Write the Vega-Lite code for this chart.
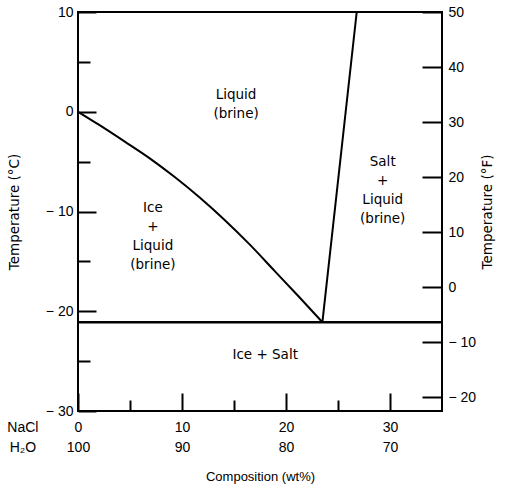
{
  "$schema": "https://vega.github.io/schema/vega-lite/v6.json",
  "width": 364,
  "height": 399,
  "autosize": "none",
  "padding": {"left": 78, "top": 12, "right": 68, "bottom": 82},
  "background": "white",
  "config": {
    "view": {"stroke": "black", "strokeWidth": 2},
    "font": "Liberation Sans",
    "axis": {
      "domain": false,
      "grid": false,
      "tickColor": "black",
      "tickWidth": 2,
      "labelColor": "black",
      "labelFontSize": 14,
      "labelFont": "Liberation Sans",
      "labelFlush": false,
      "labelOverlap": false,
      "titleFont": "DejaVu Sans",
      "titleFontSize": 13.5,
      "titleFontWeight": "normal",
      "titleColor": "black"
    }
  },
  "datasets": {
    "curves": [
      {"series": "liquidus", "wt": 0, "T": 0},
      {"series": "liquidus", "wt": 2, "T": -1.3},
      {"series": "liquidus", "wt": 4.5, "T": -3.0},
      {"series": "liquidus", "wt": 7, "T": -4.75},
      {"series": "liquidus", "wt": 9.3, "T": -6.55},
      {"series": "liquidus", "wt": 11.7, "T": -8.6},
      {"series": "liquidus", "wt": 14.1, "T": -10.85},
      {"series": "liquidus", "wt": 16.5, "T": -13.3},
      {"series": "liquidus", "wt": 18.9, "T": -15.95},
      {"series": "liquidus", "wt": 21.2, "T": -18.5},
      {"series": "liquidus", "wt": 23.5, "T": -21.1},
      {"series": "solubility", "wt": 23.5, "T": -21.1},
      {"series": "solubility", "wt": 26.8, "T": 10}
    ],
    "eutectic": [{"T": -21.1}],
    "regions": [
      {"label": "Liquid\n(brine)", "wt": 15.2, "T": 1.7},
      {"label": "Salt\n+\nLiquid\n(brine)", "wt": 29.3, "T": -5.0},
      {"label": "Ice\n+\nLiquid\n(brine)", "wt": 7.2, "T": -9.65},
      {"label": "Ice + Salt", "wt": 18.0, "T": -24.4}
    ],
    "rows": [
      {"label": "NaCl", "wt": -5.3, "T": -31.7},
      {"label": "H₂O", "wt": -5.3, "T": -33.7}
    ],
    "fahrenheit": [{"F": -22.5}, {"F": 50}]
  },
  "layer": [
    {
      "layer": [
        {
          "data": {"name": "curves"},
          "mark": {"type": "line", "color": "black", "strokeWidth": 2, "interpolate": "monotone"},
          "encoding": {
            "x": {
              "field": "wt", "type": "quantitative",
              "scale": {"domain": [0, 35], "nice": false, "zero": false},
              "axis": {
                "orient": "bottom",
                "title": "Composition (wt%)",
                "titleFont": "Liberation Sans",
                "titleFontSize": 13,
                "values": [0, 5, 10, 15, 20, 25, 30],
                "tickSize": {"condition": {"test": "datum.value % 10 === 0", "value": -18}, "value": -11},
                "labelPadding": 27,
                "labelLineHeight": 20,
                "labelBaseline": "top",
                "labelExpr": "datum.value % 10 === 0 ? [datum.label, '' + (100 - datum.value)] : ''",
                "titlePadding": 16
              }
            },
            "y": {
              "field": "T", "type": "quantitative",
              "scale": {"domain": [-30, 10], "nice": false, "zero": false},
              "axis": {
                "orient": "left",
                "title": "Temperature (°C)",
                "values": [-30, -25, -20, -15, -10, -5, 0, 5, 10],
                "tickSize": {"condition": {"test": "datum.value % 10 === 0", "value": -18}, "value": -12},
                "labelPadding": 23,
                "labelExpr": "datum.value % 10 !== 0 ? '' : (datum.value < 0 ? '− ' + (-datum.value) : '' + datum.value)",
                "titlePadding": 24
              }
            },
            "detail": {"field": "series"}
          }
        },
        {
          "data": {"name": "eutectic"},
          "mark": {"type": "rule", "color": "black", "strokeWidth": 2.5},
          "encoding": {"y": {"field": "T", "type": "quantitative"}}
        },
        {
          "data": {"name": "regions"},
          "mark": {"type": "text", "lineBreak": "\n", "lineHeight": 19, "font": "DejaVu Sans", "fontSize": 13.5, "color": "black", "align": "center", "baseline": "middle"},
          "encoding": {
            "x": {"field": "wt", "type": "quantitative"},
            "y": {"field": "T", "type": "quantitative"},
            "text": {"field": "label"}
          }
        },
        {
          "data": {"name": "rows"},
          "mark": {"type": "text", "fontSize": 14, "color": "black", "align": "center", "baseline": "middle"},
          "encoding": {
            "x": {"field": "wt", "type": "quantitative"},
            "y": {"field": "T", "type": "quantitative"},
            "text": {"field": "label"}
          }
        }
      ]
    },
    {
      "data": {"name": "fahrenheit"},
      "mark": {"type": "point", "opacity": 0},
      "encoding": {
        "y": {
          "field": "F", "type": "quantitative",
          "scale": {"domain": [-22.5, 50], "nice": false, "zero": false},
          "axis": {
            "orient": "right",
            "title": "Temperature (°F)",
            "titleAngle": 270,
            "values": [-20, -10, 0, 10, 20, 30, 40, 50],
            "tickSize": -20,
            "labelPadding": 26,
            "labelExpr": "datum.value < 0 ? '− ' + (-datum.value) : '' + datum.value",
            "titlePadding": 19
          }
        }
      }
    }
  ],
  "resolve": {"scale": {"y": "independent"}}
}
